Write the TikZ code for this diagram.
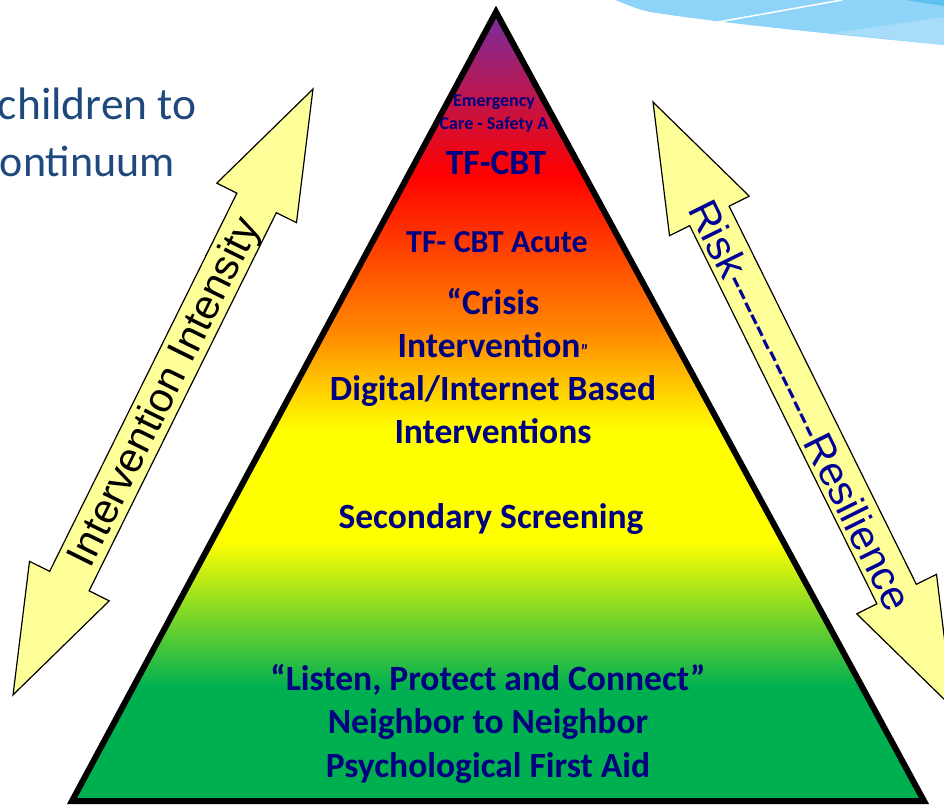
\documentclass[tikz,border=0pt]{standalone}
\usepackage{fontspec}
\setmainfont{Carlito}
\newfontfamily\arialfont{Liberation Sans}
\usepackage{xcolor}

\definecolor{pgreen}{RGB}{0,176,80}
\definecolor{pyellow}{RGB}{255,255,0}
\definecolor{porange}{RGB}{255,140,0}
\definecolor{pred}{RGB}{255,0,0}
\definecolor{ppurple}{RGB}{118,46,160}
\definecolor{lvlblue}{RGB}{0,0,128}
\definecolor{riskblue}{RGB}{0,0,150}
\definecolor{ttlblue}{RGB}{31,73,125}
\definecolor{ayellow}{RGB}{255,255,153}
\definecolor{skyA}{RGB}{142,212,248}
\definecolor{skyB}{RGB}{168,221,249}
\definecolor{skyC}{RGB}{91,194,240}

\pgfdeclareverticalshading{pyramidfill}{100bp}{color(0bp)=(pgreen); color(32.2bp)=(pgreen);
  color(41.5bp)=(pyellow); color(48.5bp)=(pyellow); color(54.5bp)=(porange);
  color(64.7bp)=(pred); color(75bp)=(ppurple); color(100bp)=(ppurple)}

\begin{document}
\begin{tikzpicture}[x=1pt,y=1pt,
  dblarrow/.style={fill=ayellow, draw=black, line width=1.2pt, line join=miter},
  arrowlbl/.style={font=\arialfont\fontsize{41.5}{42}\selectfont, inner sep=0pt},
  lvl/.style={font=\fontsize{35.5}{43}\selectfont\bfseries, text=lvlblue, align=center, anchor=base, inner sep=0pt},
  ttl/.style={font=\fontsize{44}{50}\selectfont, text=ttlblue, anchor=base east, inner sep=0pt}]
  \useasboundingbox (0,0) rectangle (944,804);

  % top corner swoosh
  \fill[skyA] (615,804) .. controls (630,798) and (640,794) .. (650,792)
    .. controls (720,781) and (830,770) .. (944,759) -- (944,804) -- cycle;
  \fill[skyB] (833,771) -- (944,787) -- (944,759) -- cycle;
  \fill[skyC] (905,804) -- (944,798) -- (944,804) -- cycle;
  \draw[white, line width=1.5pt] (718,782) -- (842,804);

  \node[ttl, font=\fontsize{45.5}{50}\selectfont] (ttl1) at (197,684) {children to};
  \node[ttl] (ttl2) at (175,627) {ontinuum};

  % pyramid
  \shadedraw[shading=pyramidfill, draw=black, line width=6pt, line join=miter]
    (496,792) coordinate (apex) -- (924,3) coordinate (br) -- (72,3) coordinate (bl) -- cycle;

  % base anchor = last line
  \node[lvl, font=\fontsize{18}{23.5}\selectfont\bfseries] (emg) at (494,674) {Emergency\\Care - Safety A};
  \node[lvl] (tfcbt) at (496,629) {TF-CBT};
  \node[lvl, font=\fontsize{32}{43}\selectfont\bfseries] (acute) at (497,551) {TF- CBT Acute};
  \node[lvl, font=\fontsize{35.5}{42.7}\selectfont\bfseries] (crisis) at (493,361)
    {“Crisis\\Intervention{\fontsize{18}{18}\selectfont ”}\\Digital/Internet Based\\Interventions};
  \node[lvl] (screen) at (491,276) {Secondary Screening};
  \node[lvl, font=\fontsize{35.5}{43.5}\selectfont\bfseries] (pfa) at (488,27)
    {“Listen, Protect and Connect”\\Neighbor to Neighbor\\Psychological First Aid};

  % side arrows
  \begin{scope}[shift={(163,412)}, rotate=63.66]
    \draw[dblarrow] (338,0) -- (211,44.5) -- (211,22) -- (-211,22) -- (-211,44.5) -- (-338,0)
      -- (-211,-44.5) -- (-211,-22) -- (211,-22) -- (211,-44.5) -- cycle;
  \end{scope}
  \node[arrowlbl, rotate=63.66] (intens) at (166,411) {Intervention Intensity};

  \begin{scope}[shift={(803,399)}, rotate=-63.66]
    \draw[dblarrow] (338,0) -- (211,44.5) -- (211,22) -- (-211,22) -- (-211,44.5) -- (-338,0)
      -- (-211,-44.5) -- (-211,-22) -- (211,-22) -- (211,-44.5) -- cycle;
  \end{scope}
  \node[arrowlbl, text=riskblue, rotate=-63.66] (risk) at (801,399)
    {Risk-{}-{}-{}-{}-{}-{}-{}-{}-{}-{}-{}-{}-Resilience};
\end{tikzpicture}
\end{document}
